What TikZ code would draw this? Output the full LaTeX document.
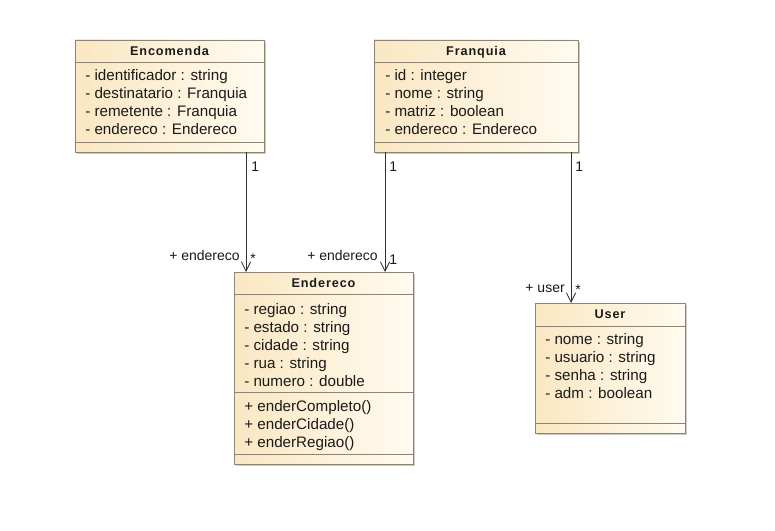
\documentclass[tikz,border=0pt]{standalone}
\usepackage{fontspec}
\setmainfont{Liberation Sans}
\usetikzlibrary{arrows.meta,fit,shadows}

\definecolor{boxline}{HTML}{8E8472}
\definecolor{fillA}{HTML}{FAE7C2}
\definecolor{fillB}{HTML}{FFFBF0}
\definecolor{inkc}{HTML}{1A1A1A}
\definecolor{wirec}{HTML}{303030}

\tikzset{
  x=0.75pt, y=-0.75pt,
  classbox/.style={draw=boxline, line width=0.6pt, inner sep=0pt, outer sep=0pt,
    left color=fillA, right color=fillB,
    drop shadow={shadow xshift=1.6pt, shadow yshift=-1.6pt, fill=black!45, opacity=0.45}},
  sepline/.style={draw=boxline, line width=0.6pt},
  ctitle/.style={anchor=base, inner sep=0pt, text=inkc,
    font=\fontsize{9.5}{11}\selectfont\bfseries\addfontfeatures{LetterSpace=7}},
  member/.style={anchor=base west, inner sep=0pt, text=inkc,
    font=\fontsize{11.4}{13}\selectfont},
  endlabel/.style={inner sep=0pt, text=inkc, font=\fontsize{10.5}{12}\selectfont},
  assoc/.style={draw=wirec, line width=0.6pt,
    -{Straight Barb[length=7pt,width=7pt,line width=0.6pt]}},
}

\begin{document}
\begin{tikzpicture}
\useasboundingbox[fill=white] (0,0) rectangle (775,531);

% ---------- Encomenda ----------
\node[classbox, fit={(75,40) (264,152)}] (enc) {};
\draw[sepline] (75,62) -- (264,62);
\draw[sepline] (75,142) -- (264,142);
\node[ctitle] (enc-t) at (169.5,56) {Encomenda};
\foreach \t [count=\i] in {- identificador : string, - destinatario : Franquia,
  - remetente : Franquia, - endereco : Endereco}
  \node[member] (enc-a\i) at (85,{81+18*(\i-1)}) {\t};

% ---------- Franquia ----------
\node[classbox, fit={(374,40) (578,152)}] (fra) {};
\draw[sepline] (374,62) -- (578,62);
\draw[sepline] (374,142) -- (578,142);
\node[ctitle] (fra-t) at (476,56) {Franquia};
\foreach \t [count=\i] in {- id : integer, - nome : string,
  - matriz : boolean, - endereco : Endereco}
  \node[member] (fra-a\i) at (385,{81+18*(\i-1)}) {\t};

% ---------- Endereco ----------
\node[classbox, fit={(234,272) (413,464)}] (end) {};
\draw[sepline] (234,294) -- (413,294);
\draw[sepline] (234,392) -- (413,392);
\draw[sepline] (234,454) -- (413,454);
\node[ctitle] (end-t) at (323.5,287) {Endereco};
\foreach \t [count=\i] in {- regiao : string, - estado : string,
  - cidade : string, - rua : string, - numero : double}
  \node[member] (end-a\i) at (244,{314+18*(\i-1)}) {\t};
\foreach \t [count=\i] in {+ enderCompleto(), + enderCidade(), + enderRegiao()}
  \node[member] (end-m\i) at (244,{411+18*(\i-1)}) {\t};

% ---------- User ----------
\node[classbox, fit={(535,303) (685,433)}] (usr) {};
\draw[sepline] (535,326) -- (685,326);
\draw[sepline] (535,423) -- (685,423);
\node[ctitle] (usr-t) at (610,318) {User};
\foreach \t [count=\i] in {- nome : string, - usuario : string,
  - senha : string, - adm : boolean}
  \node[member] (usr-a\i) at (545,{344+18*(\i-1)}) {\t};

% ---------- associations ----------
\coordinate (xa) at (246,0);
\coordinate (xb) at (385,0);
\coordinate (xc) at (571,0);

\draw[assoc] (enc.south -| xa) -- (end.north -| xa);
\node[endlabel, anchor=base west] (la1) at (251,172) {1};
\node[endlabel, anchor=base east] (la2) at (240,261) {+ endereco};
\node[endlabel, anchor=base west] (la3) at (250,263) {*};

\draw[assoc] (fra.south -| xb) -- (end.north -| xb);
\node[endlabel, anchor=base west] (lb1) at (389,172) {1};
\node[endlabel, anchor=base east] (lb2) at (378,261) {+ endereco};
\node[endlabel, anchor=base west] (lb3) at (389,265) {1};

\draw[assoc] (fra.south -| xc) -- (usr.north -| xc);
\node[endlabel, anchor=base west] (lc1) at (575,172) {1};
\node[endlabel, anchor=base east] (lc2) at (565,292) {+ user};
\node[endlabel, anchor=base west] (lc3) at (575,294) {*};
\end{tikzpicture}
\end{document}
